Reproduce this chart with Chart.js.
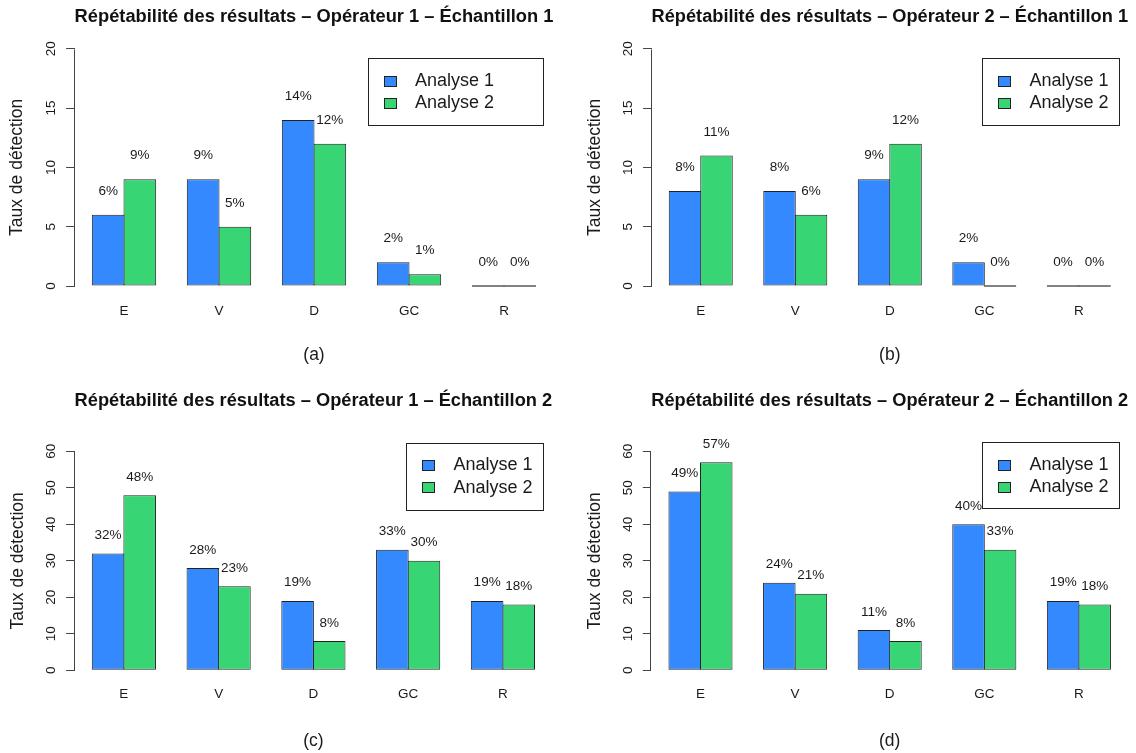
<!DOCTYPE html>
<html lang="fr">
<head>
<meta charset="utf-8">
<title>Répétabilité des résultats</title>
<script src="https://cdn.jsdelivr.net/npm/chart.js@4/dist/chart.umd.min.js"></script>
<style>
  html, body { margin: 0; padding: 0; background: #ffffff; }
  #wrap { position: relative; width: 1136px; height: 753px; overflow: hidden; background: #ffffff; }
  #wrap canvas { position: absolute; }
</style>
</head>
<body>
<div id="wrap"></div>
<script>
// ---- Data ----
const categories = ['E', 'V', 'D', 'GC', 'R'];
const seriesNames = ['Analyse 1', 'Analyse 2'];

// Opérateur 1 – Échantillon 1
const op1Ech1Analyse1 = [6, 9, 14, 2, 0];
const op1Ech1Analyse2 = [9, 5, 12, 1, 0];
// Opérateur 2 – Échantillon 1
const op2Ech1Analyse1 = [8, 8, 9, 2, 0];
const op2Ech1Analyse2 = [11, 6, 12, 0, 0];
// Opérateur 1 – Échantillon 2
const op1Ech2Analyse1 = [32, 28, 19, 33, 19];
const op1Ech2Analyse2 = [48, 23, 8, 30, 18];
// Opérateur 2 – Échantillon 2
const op2Ech2Analyse1 = [49, 24, 11, 40, 19];
const op2Ech2Analyse2 = [57, 21, 8, 33, 18];

const yTicksEch1 = [0, 5, 10, 15, 20];
const yTicksEch2 = [0, 10, 20, 30, 40, 50, 60];

const yAxisTitle = 'Taux de détection';

// ---- Styling ----
const FONT = '"Liberation Sans", Arial, Helvetica, sans-serif';
const BLUE = '#3589FF';
const GREEN = '#37D574';
const EDGE = '#222222';
const AXIS = '#444444';
const INK = '#1a1a1a';

Chart.defaults.font.family = FONT;
Chart.defaults.color = INK;

// Panel layout (canvas pixels)
const panels = [
  { left: 0, top: 0, w: 568, h: 376,
    title: 'Répétabilité des résultats – Opérateur 1 – Échantillon 1', caption: '(a)',
    series: [op1Ech1Analyse1, op1Ech1Analyse2], yTicks: yTicksEch1, labelOffset: 2,
    plot: { left: 74.6, right: 553.4, top: 39.3, bottom: 295.5 },
    titleY: 17, yTitleX: 17, captionY: 355,
    legend: { x: 367.5, y: 58.3, w: 175, h: 67 } },
  { left: 568, top: 0, w: 568, h: 376,
    title: 'Répétabilité des résultats – Opérateur 2 – Échantillon 1', caption: '(b)',
    series: [op2Ech1Analyse1, op2Ech1Analyse2], yTicks: yTicksEch1, labelOffset: 2,
    plot: { left: 83.6, right: 560, top: 39.3, bottom: 295.5 },
    titleY: 17, yTitleX: 27, captionY: 355,
    legend: { x: 414, y: 58.3, w: 137, h: 67 } },
  { left: 0, top: 376, w: 568, h: 377,
    title: 'Répétabilité des résultats – Opérateur 1 – Échantillon 2', caption: '(c)',
    series: [op1Ech2Analyse1, op1Ech2Analyse2], yTicks: yTicksEch2, labelOffset: 5,
    plot: { left: 74.6, right: 552.2, top: 66.6, bottom: 303 },
    titleY: 25, yTitleX: 18, captionY: 365,
    legend: { x: 406, y: 66.6, w: 136.5, h: 66.6 } },
  { left: 568, top: 376, w: 568, h: 377,
    title: 'Répétabilité des résultats – Opérateur 2 – Échantillon 2', caption: '(d)',
    series: [op2Ech2Analyse1, op2Ech2Analyse2], yTicks: yTicksEch2, labelOffset: 5,
    plot: { left: 83.3, right: 560.1, top: 66.6, bottom: 303 },
    titleY: 25, yTitleX: 27, captionY: 365,
    legend: { x: 414, y: 66.4, w: 137, h: 66 } }
];

// Group centres as in a side-by-side barplot: one gap unit before each pair of bars
const centres = categories.map((_, i) => 2 + 3 * i);
const xPad = 0.04 * (3 * categories.length - 1);
const xMin = 1 - xPad;
const xMax = 3 * categories.length + xPad;

// Value labels above each bar
const valueLabels = {
  id: 'valueLabels',
  afterDatasetsDraw(chart, args, opts) {
    const { ctx } = chart;
    const yScale = chart.scales.y;
    ctx.save();
    ctx.font = '13.5px ' + FONT;
    ctx.fillStyle = INK;
    ctx.textAlign = 'center';
    ctx.textBaseline = 'middle';
    chart.data.datasets.forEach((ds, di) => {
      chart.getDatasetMeta(di).data.forEach((bar, i) => {
        const v = ds.data[i].y;
        ctx.fillText(v + '%', bar.x, yScale.getPixelForValue(v + opts.offset));
      });
    });
    ctx.restore();
  }
};

// Y axis line spanning the first to the last tick only
const axisLine = {
  id: 'axisLine',
  afterDraw(chart) {
    const y = chart.scales.y;
    const first = y.ticks[0].value;
    const last = y.ticks[y.ticks.length - 1].value;
    const x = Math.round(y.right) - 0.5;
    const ctx = chart.ctx;
    ctx.save();
    ctx.strokeStyle = AXIS;
    ctx.lineWidth = 1;
    ctx.beginPath();
    ctx.moveTo(x, Math.round(y.getPixelForValue(first)) + 0.5);
    ctx.lineTo(x, Math.round(y.getPixelForValue(last)) + 0.5);
    ctx.stroke();
    ctx.restore();
  }
};

// Framed legend inside the plot region
const boxLegend = {
  id: 'boxLegend',
  afterDraw(chart, args, o) {
    const ctx = chart.ctx;
    ctx.save();
    ctx.fillStyle = '#ffffff';
    ctx.fillRect(o.x, o.y, o.w, o.h);
    ctx.strokeStyle = EDGE;
    ctx.lineWidth = 1;
    ctx.strokeRect(Math.round(o.x) + 0.5, Math.round(o.y) + 0.5, Math.round(o.w), Math.round(o.h));
    ctx.font = '18px ' + FONT;
    ctx.textAlign = 'left';
    ctx.textBaseline = 'middle';
    chart.data.datasets.forEach((ds, i) => {
      const cy = o.y + 22.7 + i * 22.4;
      const sx = Math.round(o.x + 16);
      const sy = Math.round(cy - 5.5);
      ctx.fillStyle = ds.backgroundColor;
      ctx.fillRect(sx, sy, 13, 11);
      ctx.strokeStyle = EDGE;
      ctx.strokeRect(sx + 0.5, sy + 0.5, 12, 10);
      ctx.fillStyle = INK;
      ctx.fillText(ds.label, o.x + 47.5, cy);
    });
    ctx.restore();
  }
};

const wrap = document.getElementById('wrap');

panels.forEach((p) => {
  const canvas = document.createElement('canvas');
  canvas.width = p.w;
  canvas.height = p.h;
  canvas.style.left = p.left + 'px';
  canvas.style.top = p.top + 'px';
  canvas.style.width = p.w + 'px';
  canvas.style.height = p.h + 'px';
  wrap.appendChild(canvas);

  const yMax = p.yTicks[p.yTicks.length - 1];
  const titleSize = 19.2;
  const titleLH = titleSize * 1.2;
  const axisTitleSize = 17.5;
  const axisTitleLH = axisTitleSize * 1.2;
  const tickSize = 13.5;

  const colours = [BLUE, GREEN];
  const datasets = p.series.map((vals, s) => ({
    label: seriesNames[s],
    data: vals.map((v, i) => ({ x: centres[i], y: v })),
    backgroundColor: colours[s],
    borderColor: EDGE,
    borderWidth: 1,
    borderSkipped: false,
    barPercentage: 1.032,
    categoryPercentage: 2 / 3,
    minBarLength: 1.6
  }));

  new Chart(canvas, {
    type: 'bar',
    data: { datasets },
    plugins: [valueLabels, axisLine, boxLegend],
    options: {
      responsive: false,
      animation: false,
      devicePixelRatio: 1,
      layout: { padding: { left: 0, top: 0, bottom: 0, right: p.w - p.plot.right } },
      plugins: {
        legend: { display: false },
        tooltip: { enabled: false },
        title: {
          display: true,
          text: p.title,
          fullSize: false,
          color: '#111111',
          font: { family: FONT, size: titleSize, weight: 'bold' },
          padding: { top: p.titleY - titleLH / 2, bottom: p.plot.top - p.titleY - titleLH / 2 }
        },
        valueLabels: { offset: p.labelOffset },
        boxLegend: p.legend
      },
      scales: {
        x: {
          type: 'linear',
          min: xMin,
          max: xMax,
          offset: false,
          bounds: 'data',
          grid: { display: false, drawTicks: false, offset: false },
          border: { display: false },
          afterBuildTicks: (s) => { s.ticks = centres.map((v) => ({ value: v })); },
          ticks: {
            autoSkip: false,
            minRotation: 0,
            maxRotation: 0,
            padding: 7.4,
            color: INK,
            font: { family: FONT, size: tickSize },
            callback: (v) => {
              const k = centres.indexOf(v);
              return k >= 0 ? categories[k] : '';
            }
          },
          title: {
            display: true,
            text: p.caption,
            color: INK,
            font: { family: FONT, size: axisTitleSize },
            padding: { top: 0, bottom: p.h - p.captionY - axisTitleLH / 2 }
          },
          afterFit: (s) => { s.height = p.h - p.plot.bottom; }
        },
        y: {
          type: 'linear',
          min: -0.04 * yMax,
          max: 1.04 * yMax,
          bounds: 'data',
          grid: {
            display: true,
            drawOnChartArea: false,
            drawTicks: true,
            tickLength: 8.5,
            tickColor: AXIS,
            tickWidth: 1
          },
          border: { display: false },
          afterBuildTicks: (s) => { s.ticks = p.yTicks.map((v) => ({ value: v })); },
          ticks: {
            autoSkip: false,
            minRotation: 90,
            maxRotation: 90,
            crossAlign: 'center',
            padding: 7.0,
            color: INK,
            font: { family: FONT, size: tickSize },
            callback: (v) => String(v)
          },
          title: {
            display: true,
            text: yAxisTitle,
            color: INK,
            font: { family: FONT, size: axisTitleSize },
            padding: { top: p.yTitleX - axisTitleLH / 2, bottom: 0 }
          },
          afterFit: (s) => { s.width = p.plot.left; }
        }
      }
    }
  });
});
</script>
</body>
</html>
